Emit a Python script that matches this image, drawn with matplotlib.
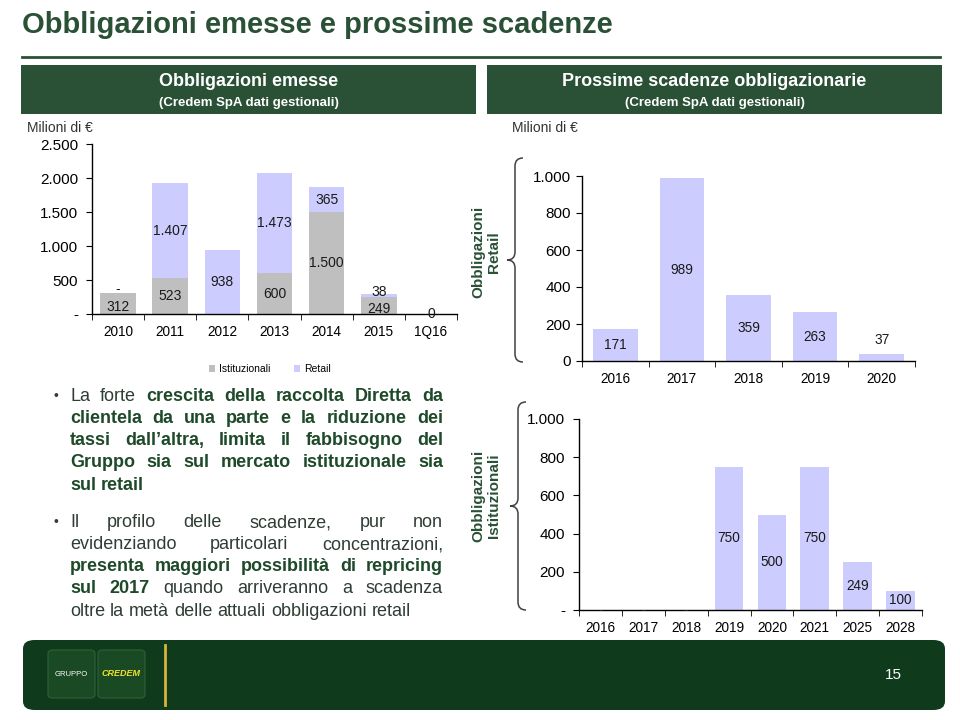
import numpy as np
import matplotlib
matplotlib.use("Agg")
import matplotlib.pyplot as plt
from matplotlib.patches import Rectangle, FancyBboxPatch, PathPatch
from matplotlib.path import Path
from matplotlib.lines import Line2D

plt.rcParams['font.family'] = ['Liberation Sans', 'DejaVu Sans']

# --- dati ---
anni_emesse = ["2010", "2011", "2012", "2013", "2014", "2015", "1Q16"]
istituzionali = [312, 523, 0, 600, 1500, 249, 0]
retail = [0, 1407, 938, 1473, 365, 38, 0]
etich_ist = ["312", "523", "", "600", "1.500", "249", "0"]
etich_ret = ["-", "1.407", "938", "1.473", "365", "38", ""]

anni_retail = ["2016", "2017", "2018", "2019", "2020"]
scad_retail = [171, 989, 359, 263, 37]

anni_ist = ["2016", "2017", "2018", "2019", "2020", "2021", "2025", "2028"]
scad_ist = [0, 0, 0, 750, 500, 750, 249, 100]

ticks_emesse = [0, 500, 1000, 1500, 2000, 2500]
tick_lab_emesse = ["-", "500", "1.000", "1.500", "2.000", "2.500"]
ticks_scad = [0, 200, 400, 600, 800, 1000]
tick_lab_retail = ["0", "200", "400", "600", "800", "1.000"]
tick_lab_ist = ["-", "200", "400", "600", "800", "1.000"]

GRIGIO = "#bfbfbf"
LAVANDA = "#ccccff"
VERDE = "#2a5136"
VERDE_SCURO = "#0f3a1c"

W, H = 960, 720
fig = plt.figure(figsize=(9.6, 7.2), dpi=100)


def fx(x):
    return x / W


def fy(y):
    return 1 - y / H


def assi(x0, y0, x1, y1):
    return fig.add_axes([fx(x0), fy(y1), (x1 - x0) / W, (y1 - y0) / H])


def fmt(v):
    return f"{v:,.0f}".replace(",", ".") if v else "-"


def stile(ax, categorie, ticks, tick_lab, pad_y):
    n = len(categorie)
    ax.set_xlim(-0.5, n - 0.5)
    ax.set_ylim(0, ticks[-1])
    for s in ["top", "right"]:
        ax.spines[s].set_visible(False)
    ax.spines["left"].set_linewidth(1)
    ax.spines["bottom"].set_linewidth(1)
    ax.set_yticks(ticks)
    ax.set_yticklabels(tick_lab, fontsize=11)
    ax.set_xticks(range(n))
    ax.set_xticklabels(categorie, fontsize=9.8)
    ax.set_xticks(np.arange(n + 1) - 0.5, minor=True)
    ax.tick_params(axis="x", which="major", length=0, pad=8)
    ax.tick_params(axis="x", which="minor", length=4, direction="out")
    ax.tick_params(axis="y", length=4, direction="out", pad=pad_y)
    ax.patch.set_alpha(0)


# --- titolo e intestazioni ---
fig.text(fx(22), fy(25), "Obbligazioni emesse e prossime scadenze", fontsize=21,
         fontweight="bold", color=VERDE, ha="left", va="center")
fig.add_artist(Line2D([fx(22), fx(940)], [fy(57), fy(57)], color=VERDE, lw=2))
for x0, x1, titolo in [(21, 476, "Obbligazioni emesse"),
                       (487, 942, "Prossime scadenze obbligazionarie")]:
    fig.add_artist(Rectangle((fx(x0), fy(114)), (x1 - x0) / W, 49 / H,
                             transform=fig.transFigure, fc=VERDE, ec="none"))
    xc = fx((x0 + x1) / 2)
    fig.text(xc, fy(82), titolo, fontsize=13, fontweight="bold", color="white",
             ha="center", va="center")
    fig.text(xc, fy(103), "(Credem SpA dati gestionali)", fontsize=9.5,
             fontweight="bold", color="white", ha="center", va="center")
fig.text(fx(27), fy(128), "Milioni di €", fontsize=10, color="#333333", va="center")
fig.text(fx(512), fy(128), "Milioni di €", fontsize=10, color="#333333", va="center")

# --- grafico obbligazioni emesse ---
ax1 = assi(92, 144, 457, 314)
x = np.arange(len(anni_emesse))
b1 = ax1.bar(x, istituzionali, width=0.68, color=GRIGIO, label="Istituzionali")
b2 = ax1.bar(x, retail, width=0.68, bottom=istituzionali, color=LAVANDA, label="Retail")
stile(ax1, anni_emesse, ticks_emesse, tick_lab_emesse, 6)
for i in range(len(x)):
    # segmenti retail piccoli: etichette leggermente distanziate
    piccolo = retail[i] < 100 and etich_ret[i] != ""
    if etich_ist[i]:
        ax1.annotate(etich_ist[i], (i, istituzionali[i] / 2),
                     xytext=(0, -2.5 if piccolo else 0), textcoords="offset points",
                     ha="center", va="center", fontsize=10, color="#1a1a1a")
    if etich_ret[i]:
        ax1.annotate(etich_ret[i], (i, istituzionali[i] + retail[i] / 2),
                     xytext=(0, 3 if piccolo else 0), textcoords="offset points",
                     ha="center", va="center", fontsize=10, color="#1a1a1a")
ax1.legend(handles=[b1, b2], loc="center", bbox_to_anchor=(fx(270), fy(369)),
           bbox_transform=fig.transFigure, ncol=2, frameon=False, fontsize=7.5,
           handlelength=0.6, handleheight=0.6, handletextpad=0.4, columnspacing=2.2)

# --- scadenze retail ---
ax2 = assi(582, 176, 915, 361)
ax2.bar(range(len(anni_retail)), scad_retail, width=0.67, color=LAVANDA)
stile(ax2, anni_retail, ticks_scad, tick_lab_retail, 4)
for i, v in enumerate(scad_retail):
    if v < 60:
        ax2.annotate(fmt(v), (i, v), xytext=(0, 5), textcoords="offset points",
                     ha="center", va="bottom", fontsize=9.8, color="#1a1a1a")
    else:
        ax2.text(i, v / 2, fmt(v), ha="center", va="center", fontsize=9.8,
                 color="#1a1a1a")

# --- scadenze istituzionali ---
ax3 = assi(579, 419, 922, 610)
ax3.bar(range(len(anni_ist)), scad_ist, width=0.67, color=LAVANDA)
stile(ax3, anni_ist, ticks_scad, tick_lab_ist, 6)
for i, v in enumerate(scad_ist):
    ax3.text(i, v / 2, fmt(v), ha="center", va="center", fontsize=9.8,
             color="#1a1a1a")


# --- graffe ed etichette verticali ---
def graffa(x_tip, y0, y1, w):
    xm, xe, ym, r = x_tip + w / 2, x_tip + w, (y0 + y1) / 2, w / 2
    pts = [(xe, y0), (xm, y0), (xm, y0 + r), (xm, ym - r), (xm, ym), (x_tip, ym),
           (xm, ym), (xm, ym + r), (xm, y1 - r), (xm, y1), (xe, y1)]
    codici = [Path.MOVETO, Path.CURVE3, Path.CURVE3, Path.LINETO, Path.CURVE3,
              Path.CURVE3, Path.CURVE3, Path.CURVE3, Path.LINETO, Path.CURVE3,
              Path.CURVE3]
    path = Path([(fx(a), fy(b)) for a, b in pts], codici)
    fig.add_artist(PathPatch(path, transform=fig.transFigure, fc="none",
                             ec="#404040", lw=1.1))


graffa(507, 158, 362, 16)
graffa(510, 402, 610, 16)
fig.text(fx(486), fy(252), "Obbligazioni\nRetail", rotation=90, fontsize=11,
         fontweight="bold", color=VERDE, ha="center", va="center",
         multialignment="center", linespacing=1.2)
fig.text(fx(486), fy(496), "Obbligazioni\nIstituzionali", rotation=90, fontsize=11,
         fontweight="bold", color=VERDE, ha="center", va="center",
         multialignment="center", linespacing=1.2)

# --- testo giustificato ---
FS = 13
renderer = fig.canvas.get_renderer()


def larghezza(s, grassetto):
    t = fig.text(0, 0, s, fontsize=FS, fontweight="bold" if grassetto else "normal")
    w = t.get_window_extent(renderer).width
    t.remove()
    return w


righe = [
    ([("La forte", False), ("crescita della raccolta Diretta da", True)], True, True),
    ([("clientela da una parte e la riduzione dei", True)], True, False),
    ([("tassi dall’altra, limita il fabbisogno del", True)], True, False),
    ([("Gruppo sia sul mercato istituzionale sia", True)], True, False),
    ([("sul retail", True)], False, False),
    ([("Il profilo delle scadenze, pur non", False)], True, True),
    ([("evidenziando particolari concentrazioni,", False)], True, False),
    ([("presenta maggiori possibilità di repricing", True)], True, False),
    ([("sul 2017", True), ("quando arriveranno a scadenza", False)], True, False),
    ([("oltre la metà delle attuali obbligazioni retail", False)], False, False),
]
centri_y = [396, 418, 440, 462, 485, 522, 544, 566, 588, 611]
X0, X1 = 70, 443
spazio = larghezza("a a", False) - larghezza("aa", False)
for (segmenti, giustifica, punto), yc in zip(righe, centri_y):
    parole = [(p, g) for s, g in segmenti for p in s.split()]
    larg = [larghezza(p, g) for p, g in parole]
    gap = (X1 - X0 - sum(larg)) / (len(parole) - 1) if giustifica else spazio
    xp = X0
    for (p, g), w in zip(parole, larg):
        fig.text(fx(xp), fy(yc + 5), p, fontsize=FS,
                 fontweight="bold" if g else "normal",
                 color="#1f4a2a" if g else "#2f3d34", ha="left", va="baseline")
        xp += w + gap
    if punto:
        fig.text(fx(53), fy(yc + 4), "•", fontsize=10, color="#2f3d34",
                 ha="left", va="baseline")

# --- piè di pagina ---
fig.add_artist(FancyBboxPatch((fx(23), fy(710)), 922 / W, 70 / H,
                              boxstyle="round,pad=0,rounding_size=0.012",
                              transform=fig.transFigure, fc=VERDE_SCURO, ec="none"))
for xa in [48, 98]:
    fig.add_artist(FancyBboxPatch((fx(xa), fy(698)), 47 / W, 48 / H,
                                  boxstyle="round,pad=0,rounding_size=0.005",
                                  transform=fig.transFigure, fc="#1a4a24",
                                  ec="#2f6238", lw=0.8))
fig.text(fx(71), fy(674), "GRUPPO", fontsize=5.5, color="white", ha="center",
         va="center")
fig.text(fx(121), fy(674), "CREDEM", fontsize=6.5, color="#f3e22c",
         fontweight="bold", style="italic", ha="center", va="center")
fig.add_artist(Line2D([fx(165), fx(165)], [fy(645), fy(705)], color="#d9b43c", lw=2))
fig.text(fx(893), fy(675), "15", fontsize=11, color="white", ha="center",
         va="center")

fig.savefig("out.png", dpi=100, facecolor="white")
